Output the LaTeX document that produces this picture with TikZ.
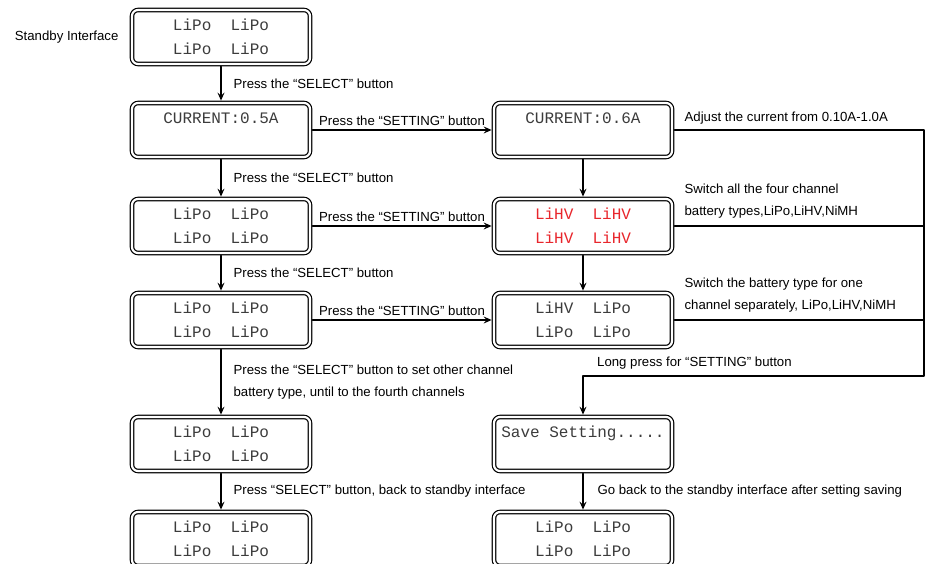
\documentclass[tikz,border=0pt]{standalone}
\usepackage{fontspec}
\setmainfont{Liberation Sans}
\newfontfamily\lcdfont{Liberation Mono}
\usepackage{tikz}
\usetikzlibrary{positioning}
\usetikzlibrary{calc}
\usetikzlibrary{arrows.meta}
\usepackage{xcolor}
\definecolor{lcdred}{RGB}{232,38,44}
\definecolor{lcdgray}{RGB}{60,60,60}

\begin{document}
\begin{tikzpicture}[x=1pt, y=-1pt, line cap=round, line join=round,
	lcd/.style={draw, line width=1.2pt, double, double distance=2.2pt, rounded corners=6pt,
		minimum width=178pt, minimum height=54pt, inner sep=0pt, outer sep=2.4pt, align=center,
		text=lcdgray, font=\lcdfont\fontsize{16}{24}\selectfont},
	arr/.style={-{Stealth[length=8pt, width=7pt, inset=3pt]}, line width=1.2pt},
	wire/.style={line width=1.2pt},
	lbl/.style={font=\fontsize{13.2}{22}\selectfont, align=left, inner sep=0pt}]
	\useasboundingbox (0,0) rectangle (928,564);
	% left column
	\node[lcd] (standby) at (221,37) {LiPo~~LiPo\\LiPo~~LiPo};
	\node[lcd] (curA) at (221,130) {CURRENT:0.5A\\~};
	\node[lcd] (allPo) at (221,226) {LiPo~~LiPo\\LiPo~~LiPo};
	\node[lcd] (onePo) at (221,320) {LiPo~~LiPo\\LiPo~~LiPo};
	\node[lcd] (fourth) at (221,444) {LiPo~~LiPo\\LiPo~~LiPo};
	\node[lcd] (backA) at (221,539) {LiPo~~LiPo\\LiPo~~LiPo};
	% right column
	\node[lcd] (curB) at (583,130) {CURRENT:0.6A\\~};
	\node[lcd, text=lcdred] (allHV) at (583,226) {LiHV~~LiHV\\LiHV~~LiHV};
	\node[lcd] (oneHV) at (583,320) {LiHV~~LiPo\\LiPo~~LiPo};
	\node[lcd] (save) at (583,444) {Save Setting.....\\~};
	\node[lcd] (backB) at (583,539) {LiPo~~LiPo\\LiPo~~LiPo};
	\node[lbl, left=11pt of standby] (standbylbl) {Standby Interface};
	% select steps
	\draw [arr] (standby) -- node[lbl, right=12pt] {Press the “SELECT” button} (curA);
	\draw [arr] (curA) -- node[lbl, right=12pt] {Press the “SELECT” button} (allPo);
	\draw [arr] (allPo) -- node[lbl, right=12pt] {Press the “SELECT” button} (onePo);
	\draw [arr] (onePo) -- node[lbl, right=12pt] {Press the “SELECT” button to set other channel\\battery type, until to the fourth channels} (fourth);
	\draw [arr] (fourth) -- node[lbl, right=12pt] {Press “SELECT” button, back to standby interface} (backA);
	% setting steps
	\draw [arr] (curA) -- node[lbl, above=4pt] {Press the “SETTING” button} (curB);
	\draw [arr] (allPo) -- node[lbl, above=4pt] {Press the “SETTING” button} (allHV);
	\draw [arr] (onePo) -- node[lbl, above=4pt] {Press the “SETTING” button} (oneHV);
	\draw [arr] (curB) -- (allHV);
	\draw [arr] (allHV) -- (oneHV);
	\draw [arr] (save) -- node[lbl, right=14pt] {Go back to the standby interface after setting saving} (backB);
	% long press
	\coordinate (rail) at (924,376);
	\draw [arr] (curB.east) -| (rail) -| (save.north);
	\draw [wire] (allHV.east) -- (allHV.east -| rail);
	\draw [wire] (oneHV.east) -- (oneHV.east -| rail);
	\node[lbl, anchor=west] (adjust) at ($(curB.east)+(10,-12)$) {Adjust the current from 0.10A-1.0A};
	\node[lbl, anchor=west] (switchall) at ($(allHV.east)+(10,-25)$) {Switch all the four channel\\battery types,LiPo,LiHV,NiMH};
	\node[lbl, anchor=west] (switchone) at ($(oneHV.east)+(10,-25)$) {Switch the battery type for one\\channel separately, LiPo,LiHV,NiMH};
	\node[lbl, anchor=west] (longpress) at ($(save.north |- rail)+(14,-13)$) {Long press for “SETTING” button};
\end{tikzpicture}
\end{document}
